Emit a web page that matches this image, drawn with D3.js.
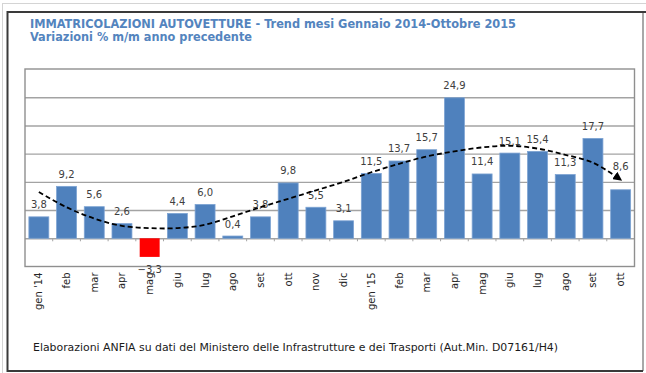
<!DOCTYPE html>
<html>
<head>
<meta charset="utf-8">
<script src="https://cdn.jsdelivr.net/npm/d3@7"></script>
<style>
  body { margin: 0; background: #fff; }
  svg { display: block; }
</style>
</head>
<body>
<div id="chart"></div>
<script>
// months, Jan 2014 -> Oct 2015
const months = ["gen '14","feb","mar","apr","mag","giu","lug","ago","set","ott","nov","dic",
                "gen '15","feb","mar","apr","mag","giu","lug","ago","set","ott"]
const changes = [3.8, 9.2, 5.6, 2.6, -3.3, 4.4, 6.0, 0.4, 3.8, 9.8, 5.5, 3.1,
                 11.5, 13.7, 15.7, 24.9, 11.4, 15.1, 15.4, 11.3, 17.7, 8.6]
// dashed trend line
const trend = [8.2, 5.5, 3.5, 2.2, 1.8, 1.8, 2.4, 3.9, 5.5, 7.0, 8.5, 10.0,
               11.7, 13.2, 14.5, 15.4, 16.1, 16.4, 15.9, 14.8, 13.4, 10.4]
const gridValues = [0, 5, 10, 15, 20, 25]

const title = "IMMATRICOLAZIONI AUTOVETTURE - Trend mesi Gennaio 2014-Ottobre 2015"
const subtitle = "Variazioni % m/m anno precedente"
const source = "Elaborazioni ANFIA su dati del Ministero delle Infrastrutture e dei Trasporti (Aut.Min. D07161/H4)"

const W = 646, H = 373
const plot = { left: 25, right: 634.5, top: 69, bottom: 266.5 }

const svg = d3.select("#chart").append("svg")
    .attr("width", W)
    .attr("height", H)

// outer frames
svg.append("rect")
    .attr("x", 2.5).attr("y", 3.5)
    .attr("width", W).attr("height", H)
    .attr("fill", "none").attr("stroke", "#d4d4d4")
svg.append("line").attr("x1", 643).attr("x2", 643).attr("y1", 12).attr("y2", 371)
    .attr("stroke", "#a8a8a8").attr("stroke-width", 2)
svg.append("path")
    .attr("d", `M${W},12 H7.5 V371 H643`)
    .attr("fill", "none").attr("stroke", "#3a3a3a").attr("stroke-width", 2)

svg.append("text")
    .attr("x", 30).attr("y", 27.5)
    .attr("font-family", "DejaVu Sans Condensed, DejaVu Sans")
    .attr("font-size", 11.5).attr("font-weight", "bold")
    .attr("fill", "#5384be")
    .attr("textLength", 486).attr("lengthAdjust", "spacingAndGlyphs")
    .text(title)
svg.append("text")
    .attr("x", 30).attr("y", 41)
    .attr("font-family", "DejaVu Sans Condensed, DejaVu Sans")
    .attr("font-size", 11.5).attr("font-weight", "bold")
    .attr("fill", "#5384be")
    .attr("textLength", 222).attr("lengthAdjust", "spacingAndGlyphs")
    .text(subtitle)

const xScale = d3.scaleBand()
    .domain(d3.range(months.length))
    .range([plot.left, plot.right])
    .paddingInner(0.28)
    .paddingOuter(0.14)

const yScale = d3.scaleLinear()
    .domain([-5, 30])
    .range([plot.bottom, plot.top])

// gridlines
svg.append("g")
    .attr("transform", `translate(${plot.left},0)`)
    .call(d3.axisLeft(yScale)
        .tickValues(gridValues)
        .tickSize(-(plot.right - plot.left))
        .tickFormat(""))
    .call(g => g.select(".domain").remove())
    .call(g => g.selectAll("line").attr("stroke", "#a3a3a3").attr("stroke-width", 1.4))

svg.append("rect")
    .attr("x", plot.left).attr("y", plot.top)
    .attr("width", plot.right - plot.left).attr("height", plot.bottom - plot.top)
    .attr("fill", "none").attr("stroke", "#8f8f8f").attr("stroke-width", 1.4)

// little ticks under the zero line, between categories
const step = xScale.step()
svg.append("g").selectAll("line")
    .data(d3.range(1, months.length))
    .enter().append("line")
    .attr("x1", i => xScale(i) - step * xScale.paddingInner() / 2)
    .attr("x2", i => xScale(i) - step * xScale.paddingInner() / 2)
    .attr("y1", yScale(0)).attr("y2", yScale(0) + 3)
    .attr("stroke", "#a3a3a3")

// bars
svg.append("g").selectAll("rect")
    .data(changes)
    .enter().append("rect")
    .attr("x", (d, i) => xScale(i))
    .attr("y", d => yScale(Math.max(0, d)))
    .attr("width", xScale.bandwidth())
    .attr("height", d => Math.abs(yScale(d) - yScale(0)))
    .attr("fill", d => d < 0 ? "#ff0000" : "#4f81bd")
    .attr("stroke", d => d < 0 ? "none" : "#7da3d3")
    .attr("stroke-width", 0.8)

// value labels
const fmt = d => d3.format(".1f")(d).replace(".", ",")
svg.append("g").selectAll("text")
    .data(changes)
    .enter().append("text")
    .attr("x", (d, i) => xScale(i) + xScale.bandwidth() / 2)
    .attr("y", (d, i) => {
        if (d < 0) return yScale(d) + 16
        // last label sits above the trend arrow
        if (i == changes.length - 1) return yScale(d) - 20
        return yScale(d) - 8.5
    })
    .attr("text-anchor", "middle")
    .attr("font-family", "DejaVu Sans")
    .attr("font-size", 10)
    .attr("fill", "#404040")
    .text(fmt)

// trend line
svg.append("defs").append("marker")
    .attr("id", "arrow")
    .attr("viewBox", "0 0 10 10")
    .attr("refX", 8).attr("refY", 5)
    .attr("markerWidth", 5).attr("markerHeight", 5)
    .attr("markerUnits", "strokeWidth")
    .attr("orient", "auto")
    .append("path")
    .attr("d", "M0,0 L10,5 L0,10 Z")
    .attr("fill", "#000")

const line = d3.line()
    .x((d, i) => xScale(i) + xScale.bandwidth() / 2)
    .y(d => yScale(d))
    .curve(d3.curveCatmullRom)

svg.append("path")
    .datum(trend)
    .attr("d", line)
    .attr("fill", "none")
    .attr("stroke", "#000")
    .attr("stroke-width", 1.8)
    .attr("stroke-dasharray", "5,3")
    .attr("marker-end", "url(#arrow)")

// category labels
svg.append("g")
    .attr("transform", `translate(0,${plot.bottom + 6})`)
    .call(d3.axisBottom(xScale).tickSize(0).tickFormat(i => months[i]))
    .call(g => g.select(".domain").remove())
    .call(g => g.selectAll("text")
        .attr("font-family", "DejaVu Sans")
        .attr("font-size", 10)
        .attr("fill", "#262626")
        .attr("transform", "rotate(-90)")
        .attr("text-anchor", "end")
        .attr("x", 0).attr("y", 0).attr("dx", 0).attr("dy", "0.35em"))

svg.append("text")
    .attr("x", 33).attr("y", 351)
    .attr("font-family", "DejaVu Sans Condensed, DejaVu Sans")
    .attr("font-size", 10.5)
    .attr("fill", "#1a1a1a")
    .attr("textLength", 525).attr("lengthAdjust", "spacingAndGlyphs")
    .text(source)
</script>
</body>
</html>
